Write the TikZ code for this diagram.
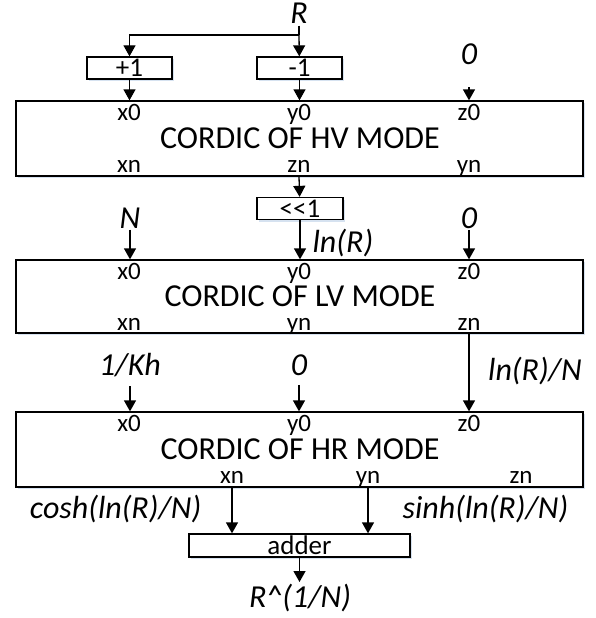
\documentclass[tikz,border=0pt]{standalone}
\usepackage{fontspec}
\setmainfont{Carlito}
\usetikzlibrary{arrows.meta,shadows}
\definecolor{shadowblue}{RGB}{214,226,240}
\begin{document}
\begin{tikzpicture}[x=1pt,y=-1pt,
  line width=1.3pt,
  arr/.style={-{Triangle[length=11pt,width=12pt]}},
  boxshadow/.style={drop shadow={shadow xshift=1.5pt, shadow yshift=-2pt, fill=shadowblue, opacity=1}},
  bigbox/.style={draw, fill=white, boxshadow, minimum width=567pt, minimum height=75pt, inner sep=0pt},
  smallbox/.style={draw, fill=white, boxshadow, minimum height=22pt, inner sep=0pt, font=\fontsize{27}{29}\selectfont},
  port/.style={inner sep=0pt, anchor=base, font=\fontsize{25}{27}\selectfont},
  modetitle/.style={inner sep=0pt, anchor=base, font=\fontsize{32}{34}\selectfont},
  lab/.style={inner sep=1pt, anchor=base, font=\itshape\fontsize{32}{34}\selectfont}]
\useasboundingbox (0,0) rectangle (595,618);

% ---------- HV stage ----------
\node[lab] (R) at (299,24) {R};
\coordinate (split) at (299,35);
\node[smallbox, minimum width=85pt] (plus) at (129.5,68) {+1};
\node[smallbox, minimum width=85pt] (minus) at (299.5,68) {-1};
\node[lab] (zeroA) at (469,65) {0};
\coordinate (zeroAin) at (469,87);
\node[bigbox, minimum height=75pt] (hv) at (299.5,138.5) {};
\node[port] (hvx0) at (129,120) {x0};
\node[port] (hvy0) at (299,120) {y0};
\node[port] (hvz0) at (469,120) {z0};
\node[modetitle] (hvt) at (300,148) {CORDIC OF HV MODE};
\node[port] (hvxn) at (129,172) {xn};
\node[port] (hvzn) at (299,172) {zn};
\node[port] (hvyn) at (469,172) {yn};

\draw (R) -- (split);
\draw[arr] (split) -- (minus);
\draw[arr] (split) -| (plus.north);
\draw[arr] (plus) -- (plus |- hv.north);
\draw[arr] (minus) -- (minus |- hv.north);
\draw[arr] (zeroAin) -- (zeroAin |- hv.north);

% ---------- shift ----------
\node[smallbox, minimum width=86pt] (shl) at (300,208.5) {<{}<1};
\draw[arr] (hvzn |- hv.south) -- (shl);

% ---------- LV stage ----------
\node[lab] (N) at (130,228) {N};
\node[lab] (zeroB) at (469,228) {0};
\node[lab, anchor=base west] (lnR) at (311,252) {ln(R)};
\node[bigbox, minimum height=73pt] (lv) at (299.5,296.5) {};
\node[port] (lvx0) at (129,279) {x0};
\node[port] (lvy0) at (299,279) {y0};
\node[port] (lvz0) at (469,279) {z0};
\node[modetitle] (lvt) at (300,306) {CORDIC OF LV MODE};
\node[port] (lvxn) at (129,330) {xn};
\node[port] (lvyn) at (299,330) {yn};
\node[port] (lvzn) at (469,330) {zn};

\draw[arr] (shl) -- (shl |- lv.north);
\draw[arr] (N) -- (N |- lv.north);
\draw[arr] (zeroB) -- (zeroB |- lv.north);

% ---------- HR stage ----------
\node[lab] (Kh) at (130,375) {1/Kh};
\node[lab] (zeroC) at (299,375) {0};
\node[lab] (lnRN) at (535,380) {ln(R)/N};
\node[bigbox, minimum height=75pt] (hr) at (299.5,449.5) {};
\node[port] (hrx0) at (129,431) {x0};
\node[port] (hry0) at (299,431) {y0};
\node[port] (hrz0) at (469,431) {z0};
\node[modetitle] (hrt) at (300,459) {CORDIC OF HR MODE};
\node[port] (hrxn) at (232,483) {xn};
\node[port] (hryn) at (368,483) {yn};
\node[port] (hrzn) at (521,483) {zn};

\draw[arr] (lvzn |- lv.south) -- (lvzn |- hr.north);
\draw[arr, shorten <=8pt] (Kh) -- (Kh |- hr.north);
\draw[arr, shorten <=8pt] (zeroC) -- (zeroC |- hr.north);

% ---------- adder ----------
\node[lab, anchor=base east] (cosh) at (203,518) {cosh(ln(R)/N)};
\node[lab, anchor=base west] (sinh) at (401,518) {sinh(ln(R)/N)};
\node[smallbox, minimum width=221pt, minimum height=23pt] (adder) at (299.5,545.5) {adder};
\node[lab] (out) at (300,607) {R\^{}(1/N)};

\draw[arr] (hrxn |- hr.south) -- (hrxn |- adder.north);
\draw[arr] (hryn |- hr.south) -- (hryn |- adder.north);
\draw[arr] (adder) -- (adder.south |- 0,582);
\end{tikzpicture}
\end{document}
